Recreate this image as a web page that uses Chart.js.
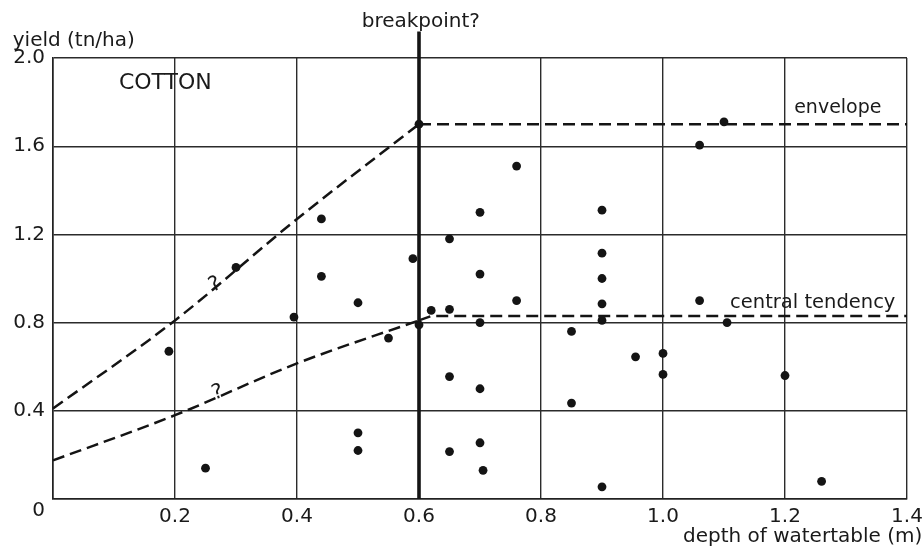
<!DOCTYPE html>
<html><head><meta charset="utf-8">
<script src="https://cdn.jsdelivr.net/npm/chart.js@4/dist/chart.umd.min.js"></script>
<style>html,body{margin:0;padding:0;background:#fff}#wrap{width:924px;height:550px}</style>
</head><body><div id="wrap"><canvas id="c" width="924" height="550"></canvas></div>
<script>
// ---- data ----
const depth = [0.55,0.44,0.44,0.30,0.395,0.50,0.19,0.25,0.50,0.50,0.55,0.59,0.76,0.70,0.65,0.90,0.90,1.06,1.10,0.70,0.76,0.62,0.65,0.70,0.65,0.70,0.70,0.65,0.705,0.85,0.85,0.90,0.90,0.90,1.06,1.105,0.955,1.00,1.00,1.20,0.90,1.26,0.60,0.60];
const yieldVals = [2.06,1.27,1.01,1.05,0.825,0.89,0.67,0.14,0.30,0.22,0.73,1.09,1.51,1.30,1.18,1.31,1.115,1.605,1.71,1.02,0.90,0.855,0.86,0.80,0.555,0.50,0.255,0.215,0.13,0.76,0.435,1.00,0.885,0.81,0.90,0.80,0.645,0.66,0.565,0.56,0.055,0.08,1.70,0.79];
const envelopeRiseX = [0, 0.2, 0.4, 0.6];
const envelopeRiseY = [0.41, 0.81, 1.27, 1.70];
const envelopeFlatX = [0.6, 1.4];
const envelopeFlatY = [1.70, 1.70];
const centralRiseX = [0, 0.2, 0.4, 0.6];
const centralRiseY = [0.175, 0.38, 0.615, 0.81];
const centralFlatX = [0.6, 0.62, 1.4];
const centralFlatY = [0.81, 0.83, 0.83];
const breakpointX = [0.6, 0.6];
const breakpointY = [0, 2.12];
const xTickValues = [0, 0.2, 0.4, 0.6, 0.8, 1.0, 1.2, 1.4];
const yTickValues = [0, 0.4, 0.8, 1.2, 1.6, 2.0];
const xTitle = 'depth of watertable (m)';
const yTitle = 'yield (tn/ha)';
const notes = ['COTTON', 'envelope', 'central tendency', 'breakpoint?', '?'];

const pts = (xs, ys) => xs.map((v, i) => ({x: v, y: ys[i]}));
const INK = '#141414';
const FONT = '"DejaVu Sans", sans-serif';

const lineDs = (xs, ys, extra) => Object.assign({
  type: 'line', data: pts(xs, ys), showLine: true, pointRadius: 0,
  borderColor: INK, borderWidth: 2.5, borderDash: [12, 6], fill: false,
  cubicInterpolationMode: 'monotone', clip: false
}, extra || {});

const textPlugin = {
  id: 'texts',
  afterDatasetsDraw(chart) {
    const {ctx, scales: {x, y}} = chart;
    const put = (txt, dx, dy, size, align, rot) => {
      ctx.save();
      ctx.font = size + 'px ' + FONT;
      ctx.fillStyle = '#1a1a1a';
      ctx.textAlign = align;
      ctx.textBaseline = 'middle';
      ctx.translate(x.getPixelForValue(dx), y.getPixelForValue(dy));
      if (rot) ctx.rotate(rot);
      ctx.fillText(txt, 0, 0);
      ctx.restore();
    };
    put(yTitle, -0.066, 2.077, 20, 'left');
    put(xTitle, 1.425, -0.172, 20, 'right');
    put(notes[0], 0.108, 1.887, 22, 'left');
    put(notes[1], 1.215, 1.775, 19, 'left');
    put(notes[2], 1.11, 0.891, 19.5, 'left');
    put(notes[3], 0.603, 2.163, 20, 'center');
    put(notes[4], 0.266, 0.971, 21, 'center', -0.45);
    put(notes[4], 0.270, 0.481, 21, 'center', -0.3);
  }
};

new Chart(document.getElementById('c'), {
  type: 'scatter',
  data: {
    datasets: [
      lineDs(breakpointX, breakpointY, {borderDash: [], borderWidth: 3.6, cubicInterpolationMode: 'default', tension: 0}),
      lineDs(envelopeRiseX, envelopeRiseY),
      lineDs(envelopeFlatX, envelopeFlatY, {cubicInterpolationMode: 'default', tension: 0}),
      lineDs(centralRiseX, centralRiseY),
      lineDs(centralFlatX, centralFlatY, {cubicInterpolationMode: 'default', tension: 0}),
      {
        type: 'scatter', data: pts(depth, yieldVals), clip: false,
        pointRadius: 4.4, pointBackgroundColor: INK, pointBorderWidth: 0, showLine: false
      }
    ]
  },
  options: {
    responsive: false, animation: false, devicePixelRatio: 1,
    layout: {padding: {top: 58, right: 17, left: 0, bottom: 0}},
    plugins: {legend: {display: false}, tooltip: {enabled: false}, title: {display: false}},
    scales: {
      x: {
        type: 'linear', min: 0, max: 1.4,
        afterBuildTicks: s => { s.ticks = xTickValues.map(v => ({value: v})); },
        afterFit: s => { s.height = 51; s.paddingLeft = 0; s.paddingRight = 0; },
        grid: {color: '#2b2b2b', lineWidth: 1.4, drawTicks: false},
        border: {display: true, color: '#222', width: 1.6},
        ticks: {
          padding: 6, color: '#1a1a1a', font: {family: FONT, size: 20},
          maxRotation: 0, autoSkip: false,
          callback: v => v === 0 ? '' : Number(v).toFixed(1)
        }
      },
      y: {
        type: 'linear', min: 0, max: 2.0,
        afterBuildTicks: s => { s.ticks = yTickValues.map(v => ({value: v})); },
        afterFit: s => { s.width = 53; s.paddingTop = 0; s.paddingBottom = 0; },
        grid: {color: '#2b2b2b', lineWidth: 1.4, drawTicks: false},
        border: {display: true, color: '#222', width: 1.6},
        ticks: {
          padding: 8, color: '#1a1a1a', font: {family: FONT, size: 20}, autoSkip: false,
          callback: v => v === 0 ? ['', '0'] : Number(v).toFixed(1)
        }
      }
    }
  },
  plugins: [textPlugin]
});
</script>
</body></html>
